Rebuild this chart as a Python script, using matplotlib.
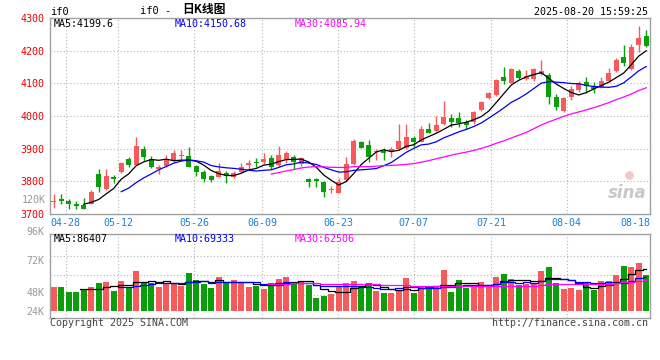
import matplotlib.pyplot as plt
import numpy as np
import pandas as pd
from matplotlib.transforms import ScaledTranslation

# daily candles (IF0)
opens = [3738, 3746, 3741, 3731, 3729, 3731, 3821, 3777, 3814, 3829,
         3868, 3850, 3899, 3867, 3839, 3847, 3865, 3879, 3879, 3847,
         3830, 3817, 3814, 3827, 3814, 3830, 3849, 3860, 3858, 3872,
         3850, 3868, 3873, 3852, 3807, 3807, 3799, 3773, 3765, 3804,
         3853, 3920, 3911, 3889, 3894, 3891, 3900, 3903, 3933, 3921,
         3959, 3953, 3975, 3993, 3993, 3981, 3983, 4018, 4056, 4064,
         4120, 4102, 4138, 4112, 4113, 4128, 4125, 4057, 4016, 4059,
         4080, 4103, 4090, 4087, 4107, 4139, 4182, 4143, 4218, 4245]
highs = [3761, 3760, 3745, 3741, 3748, 3773, 3837, 3838, 3819, 3860,
         3876, 3937, 3908, 3877, 3850, 3881, 3896, 3896, 3906, 3850,
         3835, 3819, 3857, 3833, 3833, 3857, 3865, 3872, 3886, 3881,
         3909, 3894, 3881, 3875, 3809, 3809, 3801, 3787, 3809, 3875,
         3930, 3925, 3928, 3900, 3902, 3904, 3975, 3976, 3939, 3969,
         3978, 4000, 4047, 4005, 4011, 3988, 4016, 4046, 4072, 4113,
         4149, 4146, 4143, 4141, 4146, 4172, 4131, 4068, 4057, 4091,
         4107, 4118, 4105, 4118, 4148, 4177, 4217, 4220, 4276, 4263]
lows = [3719, 3731, 3716, 3716, 3715, 3730, 3768, 3772, 3794, 3827,
        3843, 3850, 3863, 3840, 3822, 3845, 3860, 3863, 3843, 3816,
        3799, 3798, 3812, 3794, 3811, 3824, 3835, 3843, 3853, 3837,
        3843, 3855, 3838, 3847, 3784, 3784, 3753, 3765, 3763, 3802,
        3850, 3901, 3860, 3866, 3866, 3875, 3897, 3900, 3906, 3919,
        3947, 3950, 3972, 3965, 3967, 3959, 3977, 4015, 4051, 4062,
        4098, 4100, 4112, 4110, 4108, 4125, 4036, 4018, 4013, 4050,
        4075, 4071, 4071, 4085, 4104, 4136, 4153, 4141, 4197, 4210]
closes = [3740, 3739, 3730, 3725, 3716, 3768, 3784, 3816, 3808, 3857,
          3850, 3909, 3873, 3845, 3845, 3867, 3886, 3881, 3845, 3829,
          3807, 3804, 3833, 3817, 3827, 3843, 3855, 3855, 3868, 3843,
          3881, 3886, 3858, 3872, 3799, 3801, 3766, 3778, 3799, 3853,
          3924, 3903, 3875, 3894, 3886, 3898, 3922, 3935, 3919, 3960,
          3949, 3972, 3996, 3983, 3980, 3973, 4011, 4043, 4069, 4110,
          4108, 4144, 4115, 4123, 4144, 4138, 4057, 4028, 4054, 4083,
          4100, 4093, 4084, 4107, 4133, 4171, 4163, 4211, 4239, 4214]
volumes = [34100, 34100, 27600, 27600, 30000, 34100, 39000, 39800, 29200, 41400,
           32100, 53600, 39800, 39000, 34100, 39000, 38200, 34900, 51200, 42200,
           37400, 32500, 46300, 39000, 42200, 38200, 34100, 34900, 31700, 39000,
           43800, 46300, 38200, 40600, 36600, 20600, 23100, 25200, 33300, 38200,
           41000, 34100, 38200, 29200, 26000, 26000, 29200, 44300, 26000, 34900,
           32100, 34900, 54400, 27200, 42200, 32100, 34900, 39400, 34100, 45900,
           49200, 43500, 36100, 37000, 37000, 53200, 58100, 38200, 31300, 32900,
           30000, 38200, 30000, 41000, 41000, 48400, 59300, 58100, 63400, 48400]

date_labels = ["04-28", "05-12", "05-26", "06-09", "06-23", "07-07", "07-21", "08-04", "08-18"]
date_pos = [1.6, 8.6, 18.7, 27.8, 37.9, 48.0, 58.3, 68.4, 77.5]

price_ticks = [3700, 3800, 3900, 4000, 4100, 4200, 4300]
vol_ticks = [24000, 48000, 72000, 96000]
vol_tick_labels = ["24K", "48K", "72K", "96K"]

RED = "#f65a5a"
GREEN = "#0a9e0a"
GRID = "#b4b4b4"
FRAME = "#a0a0a0"
MONO = "DejaVu Sans Mono"

o = np.array(opens)
h = np.array(highs)
l = np.array(lows)
c = np.array(closes)
v = np.array(volumes)
x = np.arange(len(c))
colors = [RED if cc >= oo else GREEN for oo, cc in zip(o, c)]

fig = plt.figure(figsize=(6.6, 3.6), dpi=100)
W, H = 660, 360
ax = fig.add_axes([50 / W, 1 - 214 / H, 600 / W, 196 / H])
axv = fig.add_axes([50 / W, 1 - 317.7 / H, 600 / W, 83.4 / H])

for a in (ax, axv):
    a.set_xlim(-0.5, len(c) - 0.5)
    for s in a.spines.values():
        s.set_color(FRAME)
        s.set_linewidth(1)
    a.set_xticks(date_pos)
    a.tick_params(length=0)
    for p in date_pos[:-1]:
        a.axvline(p, color=GRID, lw=0.8, ls=(0, (1, 2)), zorder=0)

# price panel
ax.set_ylim(3700, 4300)
ax.set_yticks(price_ticks)
ax.set_yticklabels([str(t) for t in price_ticks], color="#ee0000",
                   fontsize=7.2, family=MONO)
for t in price_ticks[1:-1]:
    ax.axhline(t, color=GRID, lw=0.8, ls=(0, (1, 2)), zorder=0)
ax.set_xticklabels(date_labels, color="#1a80d8", fontsize=7.2, family=MONO)
ax.tick_params(axis="x", pad=3)
ax.tick_params(axis="y", pad=4)

ax.vlines(x, l, h, colors=colors, lw=1, zorder=2)
body = np.maximum(np.abs(c - o), 3)
ax.bar(x, body, bottom=np.minimum(o, c), width=0.72, color=colors,
       linewidth=0, zorder=3)

cs = pd.Series(c, dtype=float)
ax.plot(x, cs.rolling(5).mean(), color="black", lw=0.9, zorder=4)
ax.plot(x, cs.rolling(10).mean(), color="#0000ee", lw=0.9, zorder=4)
ax.plot(x, cs.rolling(30).mean(), color="#ff00ff", lw=0.9, zorder=4)

ax.text(4 / 600, 1 - 6 / 196, "MA5:4199.6", transform=ax.transAxes,
        color="black", fontsize=7.2, family=MONO, va="center")
ax.text(125 / 600, 1 - 6 / 196, "MA10:4150.68", transform=ax.transAxes,
        color="#0000ee", fontsize=7.2, family=MONO, va="center")
ax.text(245 / 600, 1 - 6 / 196, "MA30:4085.94", transform=ax.transAxes,
        color="#ff00ff", fontsize=7.2, family=MONO, va="center")

# sina watermark
ax.text(0.995, 0.06, "sina", transform=ax.transAxes, ha="right", va="bottom",
        color="#c8c8c8", fontsize=12, fontweight="bold", style="italic",
        family="DejaVu Sans", zorder=1)
ax.scatter([0.965], [0.2], transform=ax.transAxes, s=40, color="#f4c8c8",
           zorder=1, linewidths=0)

# volume panel
axv.set_ylim(-3900, 98200)
axv.set_yticks(vol_ticks)
axv.set_yticklabels(vol_tick_labels, color="#999999", fontsize=7.2, family=MONO)
axv.set_xticklabels([])
axv.tick_params(axis="y", pad=4)
for t in vol_ticks[:-1]:
    axv.axhline(t, color=GRID, lw=0.8, ls=(0, (1, 2)), zorder=0)
shift_px = [16, 17, 4, -5]
for lab, d in zip(axv.get_yticklabels(), shift_px):
    lab.set_transform(lab.get_transform() +
                      ScaledTranslation(0, -d / 100, fig.dpi_scale_trans))

VOL_BASE = 4300
axv.bar(x, v - VOL_BASE, bottom=VOL_BASE, width=0.76, color=colors,
        linewidth=0, zorder=2)
vs = pd.Series(v, dtype=float)
axv.plot(x, vs.rolling(5).mean(), color="black", lw=0.9, drawstyle="steps-mid", zorder=3)
axv.plot(x, vs.rolling(10).mean(), color="#0000ee", lw=0.9, drawstyle="steps-mid", zorder=3)
axv.plot(x, vs.rolling(30).mean(), color="#ff00ff", lw=0.9, drawstyle="steps-mid", zorder=3)

axv.text(4 / 600, 1 - 5 / 83.4, "MA5:86407", transform=axv.transAxes,
         color="black", fontsize=7.2, family=MONO, va="center")
axv.text(125 / 600, 1 - 5 / 83.4, "MA10:69333", transform=axv.transAxes,
         color="#0000ee", fontsize=7.2, family=MONO, va="center")
axv.text(245 / 600, 1 - 5 / 83.4, "MA30:62506", transform=axv.transAxes,
         color="#ff00ff", fontsize=7.2, family=MONO, va="center")

# header / footer texts
fig.text(50 / W, 1 - 12 / H, "if0", fontsize=7.5, family=MONO, va="center")
fig.text(140 / W, 1 - 11 / H, "if0 -", fontsize=7.5, family=MONO, va="center")
fig.text(182 / W, 1 - 10 / H, "日K线图", fontsize=8.5, fontweight="bold",
         family=["Noto Sans CJK SC", "DejaVu Sans"], va="center")
fig.text(648 / W, 1 - 12 / H, "2025-08-20 15:59:25", fontsize=7.2,
         family=MONO, ha="right", va="center")
fig.text(46 / W, 1 - 200 / H, "120K", fontsize=7.2, family=MONO,
         ha="right", va="center", color="#999999")
fig.text(50 / W, 1 - 323 / H, "Copyright 2025 SINA.COM", fontsize=7.2,
         family=MONO, va="center", color="#444444")
fig.text(648 / W, 1 - 323 / H, "http://finance.sina.com.cn", fontsize=7.2,
         family=MONO, ha="right", va="center", color="#444444")

fig.savefig("out.png", dpi=100)
